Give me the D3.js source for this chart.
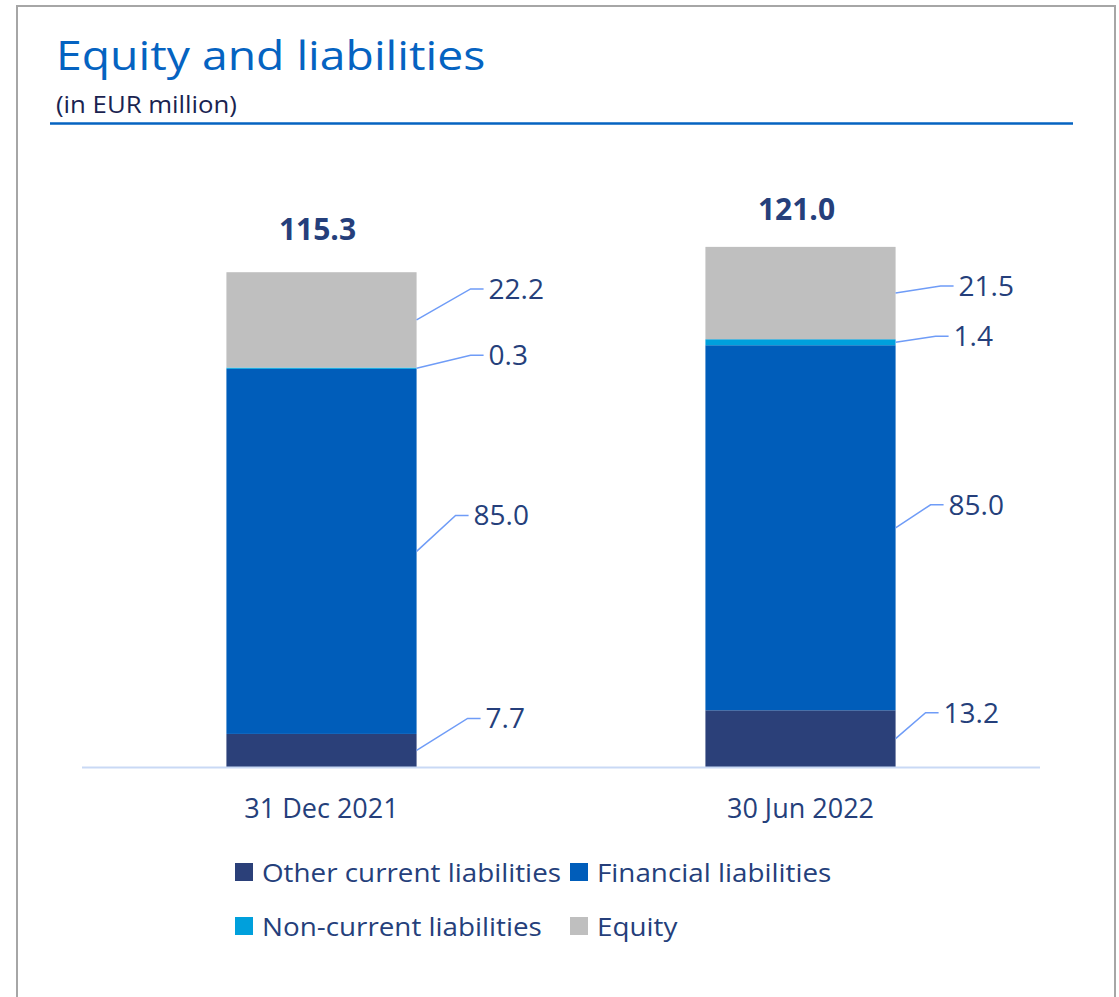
<!DOCTYPE html>
<html>
<head>
<meta charset="utf-8">
<script src="https://cdn.jsdelivr.net/npm/d3@7"></script>
<style>
  html, body { margin: 0; padding: 0; background: #fff; }
  svg { display: block; font-family: "Open Sans", "Noto Sans", sans-serif; font-variant-ligatures: none; }
</style>
</head>
<body>
<div class="chart"></div>
<script>
// data
const categories = ["31 Dec 2021", "30 Jun 2022"];
const seriesNames = ["Other current liabilities", "Financial liabilities", "Non-current liabilities", "Equity"];
const otherCurrent = [7.7, 13.2];
const financial = [85.0, 85.0];
const nonCurrent = [0.3, 1.4];
const equity = [22.2, 21.5];
const totals = [115.3, 121.0];

const colors = ["#2b4079", "#005dba", "#00a0dc", "#bfbfbf"];
const textColor = "#253f7b";

// leader-line offsets for the value labels [dx, dy] per series per bar
const leader = [
  [[51, -32], [30, -26]],
  [[39, -36], [35, -23]],
  [[54, -13], [40, -6]],
  [[54, -31], [45, -7]]
];
const totalDy = [-32, -27];

const W = 1119, H = 997;
const svg = d3.select(".chart").append("svg")
  .attr("width", W).attr("height", H);

// text squeezed/stretched horizontally (the source font is Calibri-like)
function stretchText(sel, tx, ty, sx) {
  return sel.attr("transform", "translate(" + tx + "," + ty + ") scale(" + sx + ",1)");
}

// frame
svg.append("rect")
  .attr("x", 17).attr("y", 6)
  .attr("width", 1098).attr("height", 1000)
  .attr("fill", "none").attr("stroke", "#a6a6a6").attr("stroke-width", 2);

stretchText(svg.append("text"), 56, 69.5, 1.13)
  .attr("font-size", 41).attr("fill", "#0563c1")
  .text("Equity and liabilities");
stretchText(svg.append("text"), 56, 113, 1.12)
  .attr("font-size", 23).attr("fill", "#1a2350")
  .text("(in EUR million)");
svg.append("line")
  .attr("x1", 50).attr("x2", 1073).attr("y1", 123.5).attr("y2", 123.5)
  .attr("stroke", "#0563c1").attr("stroke-width", 2.5);

// scales
const x = d3.scaleBand().domain(categories).range([82, 1040]).padding(0);
const barW = x.bandwidth() * 0.397;
const y = d3.scaleLinear().domain([0, 130]).range([767, 767 - 4.295 * 130]);

const stack = d3.stack().keys(d3.range(seriesNames.length));
const rows = categories.map((c, i) => [otherCurrent[i], financial[i], nonCurrent[i], equity[i]]);
const layers = stack(rows);

const g = svg.append("g");
layers.forEach((layer, s) => {
  g.selectAll(".bar-" + s)
    .data(layer)
    .enter()
    .append("rect")
    .attr("class", "bar-" + s)
    .attr("x", (d, i) => x(categories[i]) + (x.bandwidth() - barW) / 2)
    .attr("y", d => y(d[1]))
    .attr("width", barW)
    .attr("height", d => y(d[0]) - y(d[1]))
    .attr("fill", colors[s]);
});

// axis baseline
svg.append("line")
  .attr("x1", 82).attr("x2", 1040)
  .attr("y1", y(0) + 0.5).attr("y2", y(0) + 0.5)
  .attr("stroke", "#c9d9f5").attr("stroke-width", 2);

// category labels
svg.selectAll(".cat")
  .data(categories)
  .enter()
  .append("text")
  .attr("x", d => x(d) + x.bandwidth() / 2)
  .attr("y", 818)
  .attr("text-anchor", "middle")
  .attr("font-size", 27).attr("fill", textColor)
  .text(d => d);

// totals
svg.selectAll(".total")
  .data(totals)
  .enter()
  .append("text")
  .attr("x", (d, i) => x(categories[i]) + x.bandwidth() / 2 - 4)
  .attr("y", (d, i) => y(d) + totalDy[i])
  .attr("text-anchor", "middle")
  .attr("font-size", 30).attr("font-weight", "bold").attr("fill", textColor)
  .text(d => d.toFixed(1));

// value labels with leader lines
layers.forEach((layer, s) => {
  layer.forEach((d, i) => {
    const x0 = x(categories[i]) + (x.bandwidth() + barW) / 2;
    const y0 = (y(d[0]) + y(d[1])) / 2;
    const [dx, dy] = leader[s][i];
    const x1 = x0 + dx, y1 = y0 + dy;
    svg.append("path")
      .attr("d", d3.line()([[x0, y0], [x1, y1], [x1 + 13, y1]]))
      .attr("fill", "none").attr("stroke", "#6f9cf7").attr("stroke-width", 1.5);
    svg.append("text")
      .attr("x", x1 + 18).attr("y", y1 + 10)
      .attr("font-size", 28).attr("fill", textColor)
      .text((d[1] - d[0]).toFixed(1));
  });
});

// legend
const legendPos = [[235, 872], [570, 872], [235, 926], [570, 926]];
seriesNames.forEach((name, s) => {
  const [lx, ly] = legendPos[s];
  svg.append("rect")
    .attr("x", lx).attr("y", ly - 9)
    .attr("width", 18).attr("height", 18)
    .attr("fill", colors[s]);
  stretchText(svg.append("text"), lx + 27, ly + 10, 1.07)
    .attr("font-size", 26).attr("fill", textColor)
    .text(name);
});
</script>
</body>
</html>
